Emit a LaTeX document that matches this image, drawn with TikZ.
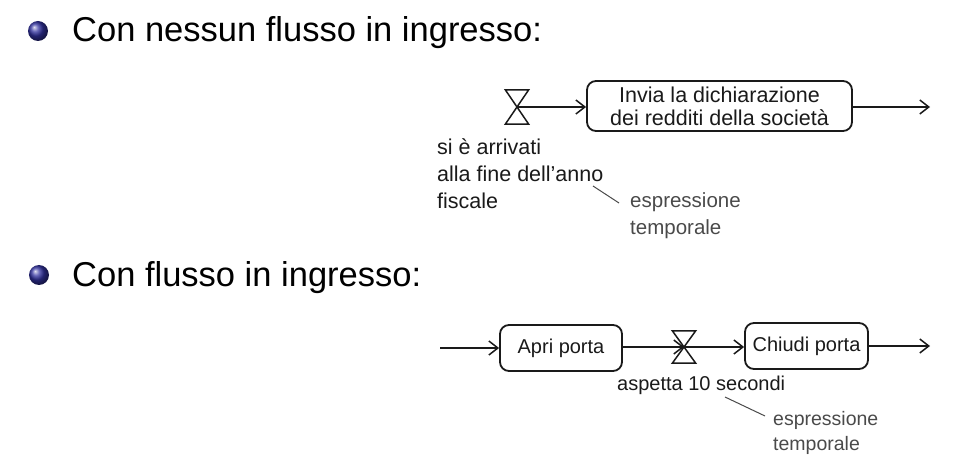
\documentclass[tikz,border=0pt]{standalone}
\usepackage{fontspec}
\setmainfont{Liberation Sans}
\usetikzlibrary{arrows.meta}
\definecolor{ink}{HTML}{1A1A1A}
\definecolor{note}{HTML}{4A4A4A}
\definecolor{ballblue}{RGB}{50,50,160}
\tikzset{
  heading/.style={anchor=base west, inner sep=0pt, font=\fontsize{34.5}{40}\selectfont, text=black},
  bulletball/.style={ball color=ballblue},
  actbox/.style={draw=ink, line width=1.8pt, rounded corners=9pt, inner sep=0pt, font=\fontsize{21.5}{22}\selectfont, text=ink, align=center},
  smalltext/.style={font=\fontsize{20}{26}\selectfont},
  hglass/.style={minimum width=23pt, minimum height=34pt, inner sep=0pt},
  flow/.style={draw=ink, line width=1.5pt, -{Straight Barb[length=9pt,width=14pt,line width=1.5pt]}},
  label/.style={inner sep=0pt, font=\fontsize{21.5}{27}\selectfont, text=ink, align=left, anchor=base west},
  notetext/.style={inner sep=0pt, font=\fontsize{20.5}{27}\selectfont, text=note, align=left, anchor=base west},
  noteline/.style={draw=note, line width=1pt},
}
\begin{document}
\begin{tikzpicture}[x=1pt,y=-1pt]
\useasboundingbox (0,0) rectangle (958,462);
% headings
\shade[bulletball] (38,31) circle (10);
\node[heading] (t1) at (72,42) {Con nessun flusso in ingresso:};
\shade[bulletball] (39,275) circle (10);
\node[heading] (t2) at (72,287) {Con flusso in ingresso:};

% diagram 1
\node[hglass] (h1) at (517,107) {};
\draw[draw=ink, line width=1.5pt, line join=miter] (h1.north west) -- (h1.north east) -- (h1.south west) -- (h1.south east) -- cycle;
\node[actbox, minimum width=265pt, minimum height=50pt] (b1) at (719.5,106) {Invia la dichiarazione\\[1pt]dei redditi della società};
\coordinate (e1) at (930,107);
\draw[flow] (h1.center) -- (b1.west |- h1.center);
\draw[flow] (b1.east |- e1) -- (e1);
% base anchor of a multi-line node is the last line's baseline
\node[label] (l1) at (437,209) {si è arrivati\\alla fine dell'anno\\fiscale};
\node[notetext] (n1) at (630,235) {espressione\\temporale};
\coordinate (a1) at (593,186);
\coordinate (a2) at (619,203);
\draw[noteline] (a1) -- (a2);

% diagram 2
\coordinate (s2) at (440,348);
\node[actbox, smalltext, minimum width=122pt, minimum height=46pt] (b2) at (561,348) {Apri porta};
\node[hglass, minimum height=32pt] (h2) at (684,347) {};
\draw[draw=ink, line width=1.5pt, line join=miter] (h2.north west) -- (h2.north east) -- (h2.south west) -- (h2.south east) -- cycle;
\node[actbox, smalltext, minimum width=123pt, minimum height=46pt] (b3) at (806.5,346) {Chiudi porta};
\coordinate (e2) at (930,346);
\draw[flow] (s2) -- (b2.west |- s2);
\draw[flow] (b2.east |- h2.center) -- (h2.center);
\draw[flow] (h2.center) -- (b3.west |- h2.center);
\draw[flow] (b3.east |- e2) -- (e2);
\node[label, smalltext] (l2) at (617,390) {aspetta 10 secondi};
\node[notetext, font=\fontsize{19.5}{25}\selectfont] (n2) at (773,450) {espressione\\temporale};
\coordinate (c1) at (725,397);
\coordinate (c2) at (765,416);
\draw[noteline] (c1) -- (c2);
\end{tikzpicture}
\end{document}
